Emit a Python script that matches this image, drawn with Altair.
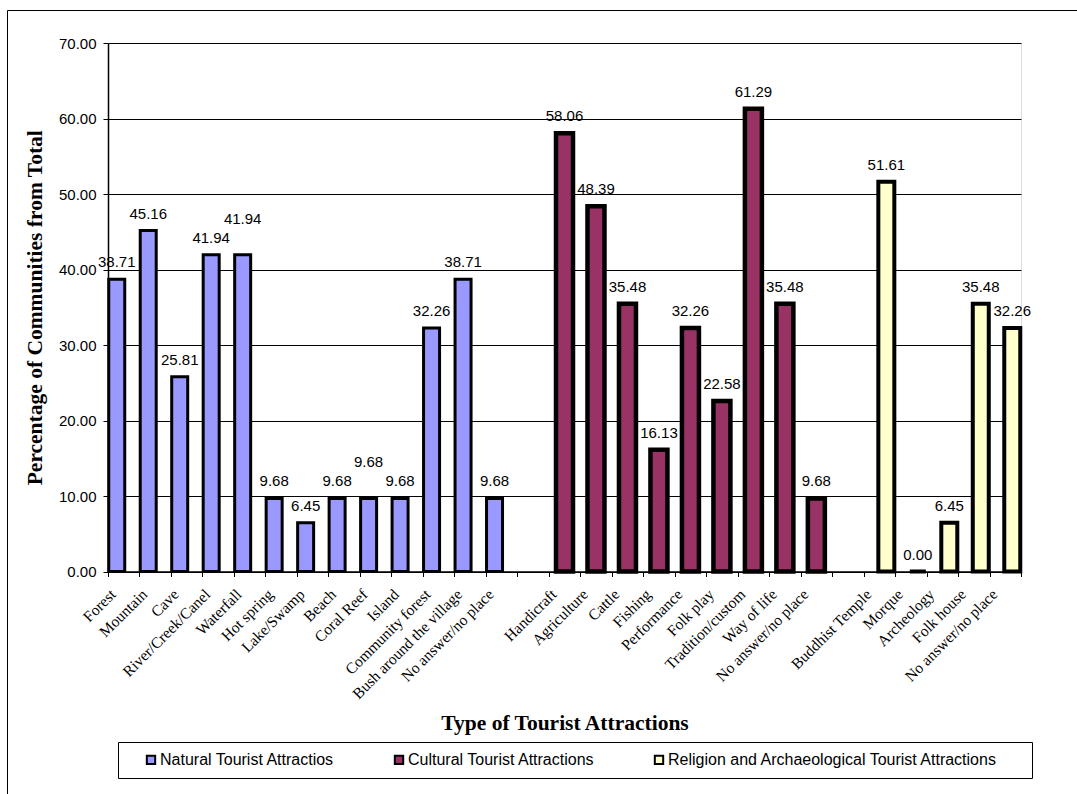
import altair as alt
import pandas as pd

# Survey results: share of communities (%) reporting each attraction type
natural_names = ["Forest", "Mountain", "Cave", "River/Creek/Canel", "Waterfall",
                 "Hot spring", "Lake/Swamp", "Beach", "Coral Reef", "Island",
                 "Community forest", "Bush around the village", "No answer/no place"]
natural_values = [38.71, 45.16, 25.81, 41.94, 41.94, 9.68, 6.45, 9.68, 9.68, 9.68,
                  32.26, 38.71, 9.68]

cultural_names = ["Handicraft", "Agriculture", "Cattle", "Fishing", "Performance",
                  "Folk play", "Tradition/custom", "Way of life", "No answer/no place"]
cultural_values = [58.06, 48.39, 35.48, 16.13, 32.26, 22.58, 61.29, 35.48, 9.68]

religion_names = ["Buddhist Temple", "Morque", "Archeology", "Folk house",
                  "No answer/no place"]
religion_values = [51.61, 0.00, 6.45, 35.48, 32.26]

series_names = ["Natural Tourist Attractios", "Cultural Tourist Attractions",
                "Religion and Archaeological Tourist Attractions"]
series_colors = ["#9999FF", "#993366", "#FFFFCC"]

y_ticks = [0, 10, 20, 30, 40, 50, 60, 70]

# long table; the key keeps repeated names (e.g. "No answer/no place") distinct
rows = []
groups = [natural_names, cultural_names, religion_names]
group_vals = [natural_values, cultural_values, religion_values]
for s, names, vals in zip(series_names, groups, group_vals):
    for n, v in zip(names, vals):
        rows.append({"key": f"{s}|{n}", "label": n, "series": s, "value": v})
df = pd.DataFrame(rows)

order = ([f"{series_names[0]}|{n}" for n in natural_names] + ["gap1|"] +
         [f"{series_names[1]}|{n}" for n in cultural_names] + ["gap2|"] +
         [f"{series_names[2]}|{n}" for n in religion_names])

W, H = 913, 528.5
LEFT, TOP = 108, 43

x_scale = alt.Scale(domain=order, paddingInner=0, paddingOuter=0)
y_scale = alt.Scale(domain=[0, 70], nice=False)

x_axis = alt.Axis(
    labelExpr="split(datum.label, '|')[1]",
    labelAngle=-45, labelFont="Liberation Serif", labelFontSize=15.5,
    labelColor="black", labelPadding=10, labelOffset=-16, labelLimit=0,
    tickBand="extent", tickSize=5, tickColor="black", domainColor="black",
    domainWidth=1.5, grid=False,
    title="Type of Tourist Attractions", titleFont="Liberation Serif",
    titleFontSize=21.5, titleFontWeight="bold", titleColor="black",
    titleBaseline="middle", titleY=151.5,
)
y_axis = alt.Axis(
    values=y_ticks, format=".2f", labelFont="Liberation Sans", labelFontSize=15,
    labelColor="black", labelPadding=7, tickSize=5, tickColor="black",
    domainColor="black", domainWidth=1.5,
    grid=True, gridColor="black",
    title="Percentage of Communities from Total", titleFont="Liberation Serif",
    titleFontSize=21.5, titleFontWeight="bold", titleColor="black",
    titleAngle=-90, titleBaseline="middle", titleX=-73, titleY=H / 2,
)

color = alt.Color(
    "series:N",
    scale=alt.Scale(domain=series_names, range=series_colors),
    legend=alt.Legend(
        orient="none", direction="horizontal", columns=3, title=None,
        legendX=35, legendY=708.5, padding=0, columnPadding=55,
        symbolType="square", symbolSize=70, symbolStrokeColor="black",
        symbolStrokeWidth=2, symbolOpacity=1,
        labelFont="Liberation Sans", labelFontSize=16, labelColor="black",
        labelOffset=1, labelLimit=0,
    ),
)

X = alt.X("key:N", scale=x_scale, axis=x_axis)
Y = alt.Y("value:Q", scale=y_scale, axis=y_axis)

base = alt.Chart(df)

bar_style = {
    series_names[0]: dict(xOffset=-7, width=16, strokeWidth=3),
    series_names[1]: dict(xOffset=0, width=17, strokeWidth=4.5),
    series_names[2]: dict(xOffset=7, width=16, strokeWidth=4),
}

bar_layers = []
for s in series_names:
    st = bar_style[s]
    bar_layers.append(
        base.transform_filter(alt.datum.series == s)
        .mark_bar(stroke="black", strokeWidth=st["strokeWidth"], width=st["width"],
                  xOffset=st["xOffset"], opacity=1)
        .encode(x=X, y=Y, color=color)
    )

# value labels above each bar; two labels sit higher to clear neighbours
lifted = [f"{series_names[0]}|Waterfall", f"{series_names[0]}|Coral Reef"]
label_layers = []
for s in series_names:
    off = bar_style[s]["xOffset"]
    for is_lifted in (False, True):
        test = alt.FieldOneOfPredicate(field="key", oneOf=lifted)
        src = base.transform_filter(alt.datum.series == s)
        src = src.transform_filter(test) if is_lifted else src.transform_filter(
            alt.LogicalNotPredicate(**{"not": test}))
        label_layers.append(
            src.mark_text(font="Liberation Sans", fontSize=15, color="black",
                          baseline="middle", dy=-36 if is_lifted else -17,
                          xOffset=off)
            .encode(x=X, y=Y, text=alt.Text("value:Q", format=".2f"))
        )

one = alt.Chart(pd.DataFrame({"k": [0]}))
# outer chart frame and legend box
frame = one.mark_rect(fillOpacity=0, stroke="black", strokeWidth=1).encode(
    x=alt.value(7.5 - LEFT), x2=alt.value(1200), y=alt.value(10.5 - TOP),
    y2=alt.value(900))
legend_box = one.mark_rect(fill="white", stroke="black", strokeWidth=1).encode(
    x=alt.value(118.5 - LEFT), x2=alt.value(1032.5 - LEFT),
    y=alt.value(742.5 - TOP), y2=alt.value(778.5 - TOP))

chart = alt.layer(*bar_layers, *label_layers, frame, legend_box).properties(
    width=W, height=H,
    autosize=alt.AutoSizeParams(type="none"),
    padding={"left": LEFT, "top": TOP, "right": 1077 - LEFT - W,
             "bottom": 794 - TOP - H},
).configure_view(stroke="#808080", strokeWidth=1).configure(background="white")

chart.save("out.html", embed_options={"renderer": "svg", "actions": False})
